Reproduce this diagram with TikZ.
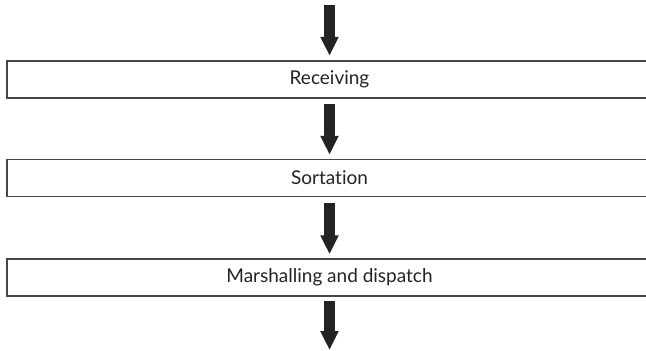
\documentclass[tikz,border=0pt]{standalone}
\usepackage{fontspec}
\setmainfont[Ligatures=NoCommon]{Lato}
\usetikzlibrary{arrows.meta,positioning}
\definecolor{ink}{RGB}{35,35,35}
\definecolor{rule}{RGB}{70,70,70}
\tikzset{
  every picture/.style={color=ink, font=\fontsize{9.5}{11.5}\selectfont},
  node distance=30pt,
  stage/.style={draw=rule, line width=0.75pt, minimum width=322.5pt, minimum height=18.5pt, inner sep=0pt, align=center},
  flow/.style={-{Triangle[length=9.5pt,width=8.5pt]}, line width=5.5pt, color=ink, shorten <=2.75pt, shorten >=2pt},
}
\begin{document}
\begin{tikzpicture}[x=0.5pt,y=-0.5pt]
  \useasboundingbox (0,0) rectangle (646,350);
  \clip (0,0) rectangle (646,350);
  \node[stage] (receive) at (329.5,79.5) {Receiving};
  \node[stage, below=30pt of receive] (sort) {Sortation};
  \node[stage, below=30.5pt of sort] (dispatch) {Marshalling and dispatch};
  \coordinate (in) at (329.5,5);
  \coordinate (out) at (329.5,350);
  \draw[flow, shorten <=0pt, shorten >=2.25pt] (in) -- (receive);
  \draw[flow] (receive) -- (sort);
  \draw[flow] (sort) -- (dispatch);
  \draw[flow, shorten <=2.25pt, shorten >=0pt] (dispatch) -- (out);
\end{tikzpicture}
\end{document}
